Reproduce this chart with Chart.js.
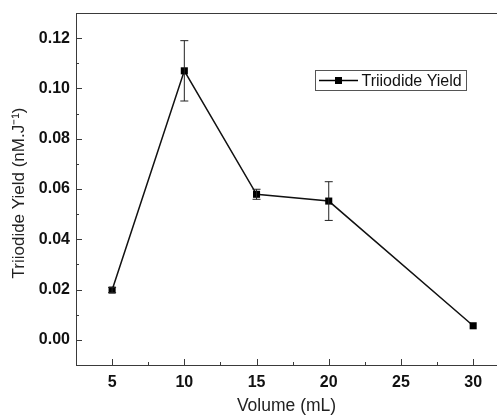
<!DOCTYPE html>
<html>
<head>
<meta charset="utf-8">
<script src="https://cdn.jsdelivr.net/npm/chart.js@4/dist/chart.umd.min.js"></script>
<style>
  html, body { margin: 0; padding: 0; background: #fff; overflow: hidden; }
  /* plot runs off the right edge in the original, so the canvas is a bit wider than the window */
  #wrap { width: 502px; height: 417px; }
</style>
</head>
<body>
<div id="wrap"><canvas id="c"></canvas></div>
<script>
// values
const volumes = [5, 10, 15, 20, 30];
const yieldVals = [0.0198, 0.107, 0.0579, 0.0552, 0.0056];
const yieldErr = [0.001, 0.012, 0.002, 0.0077, 0];
const xMajor = [5, 10, 15, 20, 25, 30];
const xMinor = [7.5, 12.5, 17.5, 22.5, 27.5];
const yMajor = [0, 0.02, 0.04, 0.06, 0.08, 0.10, 0.12];
const yMinor = [-0.01, 0.01, 0.03, 0.05, 0.07, 0.09, 0.11];
const yTitle = 'Triiodide Yield (nM.J⁻¹)';

const FONT = '"Liberation Sans", Arial, sans-serif';
const AXIS = '#3a3a3a';

// error bars, tick marks, top frame line, y title and the boxed legend
const extras = {
  id: 'extras',
  afterDatasetsDraw(chart) {
    const { ctx, chartArea: a, scales: { x, y } } = chart;
    ctx.save();
    ctx.strokeStyle = AXIS;
    ctx.lineWidth = 1;
    // top frame
    ctx.beginPath();
    ctx.moveTo(a.left, a.top + 0.5);
    ctx.lineTo(a.right, a.top + 0.5);
    ctx.stroke();
    // inward tick marks
    const tick = (px, len, horiz) => {
      ctx.beginPath();
      if (horiz) { ctx.moveTo(a.left, px); ctx.lineTo(a.left + len, px); }
      else { ctx.moveTo(px, a.bottom); ctx.lineTo(px, a.bottom - len); }
      ctx.stroke();
    };
    xMajor.forEach(v => tick(Math.round(x.getPixelForValue(v)) + 0.5, 6, false));
    xMinor.forEach(v => tick(Math.round(x.getPixelForValue(v)) + 0.5, 3, false));
    yMajor.forEach(v => tick(Math.round(y.getPixelForValue(v)) + 0.5, 6, true));
    yMinor.forEach(v => tick(Math.round(y.getPixelForValue(v)) + 0.5, 3, true));

    // error bars
    ctx.strokeStyle = '#222';
    volumes.forEach((v, i) => {
      const e = yieldErr[i];
      if (!e) return;
      const px = x.getPixelForValue(v);
      const hi = y.getPixelForValue(yieldVals[i] + e);
      const lo = y.getPixelForValue(yieldVals[i] - e);
      ctx.beginPath();
      ctx.moveTo(px, hi); ctx.lineTo(px, lo);
      ctx.moveTo(px - 4, hi); ctx.lineTo(px + 4, hi);
      ctx.moveTo(px - 4, lo); ctx.lineTo(px + 4, lo);
      ctx.stroke();
    });

    // y axis title
    ctx.save();
    ctx.translate(19, 193);
    ctx.rotate(-Math.PI / 2);
    ctx.font = '17px ' + FONT;
    ctx.fillStyle = '#222';
    ctx.textAlign = 'center';
    ctx.textBaseline = 'middle';
    ctx.fillText(yTitle, 0, 0);
    ctx.restore();

    // legend box
    const ds = chart.data.datasets[0];
    const bx = 315.5, by = 70.5, bw = 151, bh = 20;
    ctx.strokeStyle = '#555';
    ctx.strokeRect(bx, by, bw, bh);
    const my = by + bh / 2;
    ctx.strokeStyle = '#000';
    ctx.lineWidth = 1.5;
    ctx.beginPath();
    ctx.moveTo(bx + 3.5, my); ctx.lineTo(bx + 42.5, my);
    ctx.stroke();
    ctx.fillStyle = '#000';
    ctx.fillRect(bx + 19.5, my - 3.5, 7, 7);
    ctx.font = '16px ' + FONT;
    ctx.textBaseline = 'middle';
    ctx.fillStyle = '#111';
    ctx.fillText(ds.label, bx + 46, my + 1);
    ctx.restore();
  }
};

new Chart(document.getElementById('c'), {
  type: 'line',
  data: {
    datasets: [{
      label: 'Triiodide Yield',
      data: volumes.map((v, i) => ({ x: v, y: yieldVals[i] })),
      borderColor: '#111',
      borderWidth: 1.5,
      backgroundColor: '#000',
      pointStyle: 'rect',
      pointRadius: 5,
      pointBorderWidth: 0,
      tension: 0
    }]
  },
  options: {
    responsive: true,
    maintainAspectRatio: false,
    animation: false,
    events: [],
    layout: { padding: { top: 13, right: 0, left: 0, bottom: 0 } },
    plugins: { legend: { display: false }, tooltip: { enabled: false } },
    scales: {
      x: {
        type: 'linear',
        min: 2.5,
        max: 31.65,
        afterBuildTicks: s => { s.ticks = xMajor.map(v => ({ value: v })); },
        afterFit: s => { s.height = 52; s.paddingRight = 0; s.paddingLeft = 0; },
        grid: { display: false, drawTicks: false },
        border: { display: true, color: AXIS, width: 1 },
        ticks: { color: '#111', padding: 8, maxRotation: 0, font: { family: FONT, size: 16, weight: 'bold' } },
        title: { display: true, text: 'Volume (mL)', color: '#222', padding: { top: 3, bottom: 0 }, font: { family: FONT, size: 17.5 } }
      },
      y: {
        min: -0.01,
        max: 0.13,
        afterBuildTicks: s => { s.ticks = yMajor.map(v => ({ value: v })); },
        afterFit: s => { s.width = 76; s.paddingTop = 0; s.paddingBottom = 0; },
        grid: { display: false, drawTicks: false },
        border: { display: true, color: AXIS, width: 1 },
        ticks: { color: '#111', padding: 6, callback: v => v.toFixed(2), font: { family: FONT, size: 16, weight: 'bold' } },
        title: { display: false }
      }
    }
  },
  plugins: [extras]
});
</script>
</body>
</html>
